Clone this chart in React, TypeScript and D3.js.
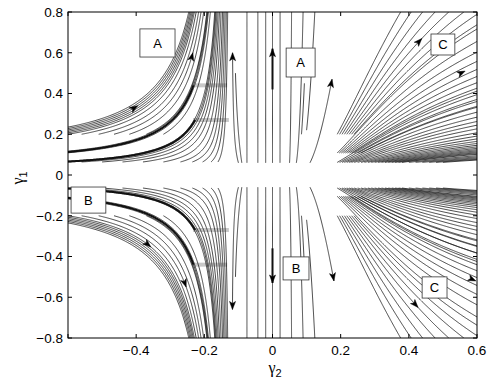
import React from "react";
import * as d3 from "d3";

const width = 491;
const height = 382;
const margin = { left: 68, right: 14, top: 12, bottom: 44 };

const xTicks = [-0.6, -0.4, -0.2, 0, 0.2, 0.4, 0.6];
const xTickLabels = ["", "\u22120.4", "\u22120.2", "0", "0.2", "0.4", "0.6"];
const yTicks = [-0.8, -0.6, -0.4, -0.2, 0, 0.2, 0.4, 0.6, 0.8];
const yTickLabels = ["\u22120.8", "\u22120.6", "\u22120.4", "\u22120.2", "0", "0.2", "0.4", "0.6", "0.8"];

// upper left (region A): γ1 where lines enter at γ2 = -0.6
const upperLeftEdge = [0.064, 0.068, 0.109, 0.113, 0.117, 0.2, 0.207, 0.214, 0.221, 0.228, 0.235];
// γ2 where lines start on the row γ1 = 0.2 and on the row γ1 = 0.064
const upperLeftRowHigh = [-0.56, -0.51, -0.465, -0.42, -0.37, -0.32];
const upperLeftRowLow = [-0.56, -0.5, -0.44, -0.38, -0.32, -0.27, -0.235, -0.205, -0.18, -0.16];
// lower left (region B)
const lowerLeftEdge = [-0.064, -0.068, -0.109, -0.113, -0.117, -0.2, -0.207, -0.214, -0.221, -0.228, -0.235];
const lowerLeftRowHigh = [-0.56, -0.51, -0.465, -0.42, -0.37, -0.32];
const lowerLeftRowLow = [-0.56, -0.5, -0.44, -0.38, -0.32, -0.27, -0.235, -0.205, -0.18, -0.16];

// middle band: [γ2 start, γ1 start, γ1 end]
const upperMiddle = [
  [-0.1, 0.06, 0.6], [-0.09, 0.06, 0.5], [-0.075, 0.06, 0.8], [-0.043, 0.06, 0.8], [-0.02, 0.06, 0.8],
  [0, 0.06, 0.8], [0.022, 0.06, 0.8], [0.05, 0.06, 0.8], [0.07, 0.06, 0.8],
  [0.11, 0.06, 0.47], [0.085, 0.2, 0.45], [0.1, 0.22, 0.8],
];
const lowerMiddle = [
  [-0.1, -0.06, -0.66], [-0.09, -0.06, -0.5], [-0.075, -0.06, -0.8], [-0.043, -0.06, -0.8], [-0.02, -0.06, -0.8],
  [0, -0.06, -0.8], [0.022, -0.06, -0.8], [0.05, -0.06, -0.8], [0.07, -0.06, -0.8],
  [0.11, -0.06, -0.52], [0.085, -0.2, -0.45], [0.1, -0.22, -0.8],
];

// right side (region C): γ2 where lines start on each γ1 row
const upperRightRow20 = [0.19, 0.197, 0.204, 0.211, 0.218, 0.225, 0.232, 0.239];
const upperRightRow11 = [0.19, 0.196, 0.202, 0.208, 0.214, 0.22, 0.226, 0.232, 0.24, 0.25, 0.26];
const upperRightRow06 = [0.19, 0.197, 0.204, 0.211, 0.218, 0.225, 0.232, 0.24, 0.25, 0.26, 0.27, 0.28, 0.29, 0.3, 0.31, 0.32, 0.33, 0.34, 0.35, 0.36, 0.37, 0.38, 0.4, 0.42, 0.44, 0.46, 0.48, 0.5];
const lowerRightRow20 = [0.19, 0.197, 0.204, 0.211, 0.218, 0.225, 0.232, 0.239];
const lowerRightRow10 = [0.19, 0.196, 0.202, 0.208, 0.214, 0.22, 0.226, 0.232, 0.24, 0.25, 0.26];
const lowerRightRow06 = [0.19, 0.197, 0.204, 0.211, 0.218, 0.225, 0.232, 0.24, 0.25, 0.26, 0.27, 0.28, 0.29, 0.3, 0.31, 0.32, 0.33, 0.34, 0.35, 0.36, 0.37, 0.38, 0.4, 0.42, 0.44, 0.46, 0.48, 0.5];

// heavy streamlines: [γ2 start, γ1 start, γ1 end]
const heavyLines = [
  [-0.6, 0.066, 0.27], [-0.6, 0.113, 0.44],
  [-0.6, -0.066, -0.27], [-0.6, -0.113, -0.44],
  [0, 0.42, 0.62], [0, -0.36, -0.53],
];

// arrows: [γ2 start, γ1 start, γ1 at arrow tip]
const arrows = [
  [-0.6, 0.221, 0.34], [-0.465, 0.2, 0.6], [-0.1, 0.06, 0.6], [0, 0.06, 0.62],
  [0.11, 0.06, 0.47], [0.218, 0.2, 0.67], [0.211, 0.108, 0.51],
  [-0.6, -0.2, -0.353], [-0.51, -0.2, -0.55], [-0.1, -0.06, -0.66], [0, -0.06, -0.53],
  [0.11, -0.06, -0.52], [0.218, -0.2, -0.65], [0.211, -0.105, -0.52],
];

// grey start bands: [γ1, γ2 from, γ2 to]
const bands = [
  [0.44, -0.233, -0.133], [0.27, -0.233, -0.128],
  [-0.27, -0.233, -0.128], [-0.44, -0.233, -0.133],
];

// boxed labels: [text, γ2 left, γ2 right, γ1 top, γ1 bottom]
const labels = [
  ["A", -0.389, -0.286, 0.717, 0.579],
  ["A", 0.04, 0.125, 0.623, 0.481],
  ["C", 0.465, 0.535, 0.692, 0.589],
  ["B", -0.591, -0.489, -0.059, -0.187],
  ["B", 0.031, 0.107, -0.402, -0.515],
  ["C", 0.439, 0.512, -0.5, -0.604],
];

const x = d3.scaleLinear().domain([-0.6, 0.6]).range([margin.left, width - margin.right]);
const y = d3.scaleLinear().domain([-0.8, 0.8]).range([height - margin.bottom, margin.top]);
const sx = Math.abs(x(1) - x(0));
const sy = Math.abs(y(1) - y(0));

// flow field: γ1 grows away from 0, γ2 drifts as below
function vx(g2: number) {
  const u = -g2;
  let m;
  if (g2 >= 0) m = (g2 * g2) / (g2 * g2 + 0.004);
  else if (u >= 0.12) m = Math.tanh((u - 0.12) / 0.08);
  else if (u > 0.08) m = -0.5 * Math.sin((Math.PI * (u - 0.08)) / 0.04);
  else m = 0;
  return 2 * g2 * g2 * m;
}

function trace(g2s: number, g1s: number, g1End = 0.8) {
  const pts: number[][] = [[g2s, g1s]];
  let p = [g2s, g1s];
  const lim = Math.abs(g1End);
  const f = (q: number[]) => [vx(q[0]), q[1]];
  for (let i = 0; i < 5000; i++) {
    const v = f(p);
    const sp = Math.hypot(v[0] * sx, v[1] * sy) || 1;
    const dt = 1 / sp;
    const k1 = f(p);
    const k2 = f([p[0] + (dt / 2) * k1[0], p[1] + (dt / 2) * k1[1]]);
    const k3 = f([p[0] + (dt / 2) * k2[0], p[1] + (dt / 2) * k2[1]]);
    const k4 = f([p[0] + dt * k3[0], p[1] + dt * k3[1]]);
    const n = [
      p[0] + (dt / 6) * (k1[0] + 2 * k2[0] + 2 * k3[0] + k4[0]),
      p[1] + (dt / 6) * (k1[1] + 2 * k2[1] + 2 * k3[1] + k4[1]),
    ];
    if (Math.abs(n[1]) >= lim) {
      const t = (lim - Math.abs(p[1])) / (Math.abs(n[1]) - Math.abs(p[1]));
      pts.push([p[0] + t * (n[0] - p[0]), Math.sign(n[1]) * lim]);
      break;
    }
    pts.push(n);
    if (n[0] > 0.61 || n[0] < -0.61) break;
    p = n;
  }
  return pts;
}

const line = d3
  .line<number[]>()
  .x((d) => x(d[0]))
  .y((d) => y(d[1]));

const seeds: number[][] = [
  ...upperLeftEdge.map((g1) => [-0.6, g1, 0.8]),
  ...upperLeftRowHigh.map((g2) => [g2, 0.2, 0.8]),
  ...upperLeftRowLow.map((g2) => [g2, 0.064, 0.8]),
  ...lowerLeftEdge.map((g1) => [-0.6, g1, -0.8]),
  ...lowerLeftRowHigh.map((g2) => [g2, -0.2, -0.8]),
  ...lowerLeftRowLow.map((g2) => [g2, -0.064, -0.8]),
  ...upperMiddle,
  ...lowerMiddle,
  ...upperRightRow20.map((g2) => [g2, 0.2, 0.8]),
  ...upperRightRow11.map((g2) => [g2, 0.108, 0.8]),
  ...upperRightRow06.map((g2) => [g2, 0.062, 0.8]),
  ...lowerRightRow20.map((g2) => [g2, -0.2, -0.8]),
  ...lowerRightRow10.map((g2) => [g2, -0.105, -0.8]),
  ...lowerRightRow06.map((g2) => [g2, -0.064, -0.8]),
];

function arrowHead(a: number[]) {
  const pts = trace(a[0], a[1], a[2]);
  const tip = pts[pts.length - 1];
  const px = x(tip[0]);
  const py = y(tip[1]);
  let dx = vx(tip[0]) * sx;
  let dy = -tip[1] * sy;
  const L = Math.hypot(dx, dy);
  dx /= L;
  dy /= L;
  const len = 8;
  const hw = 3;
  const bx = px - dx * len;
  const by = py - dy * len;
  const nx = bx + dx * 2;
  const ny = by + dy * 2;
  return `M${px},${py}L${bx - dy * hw},${by + dx * hw}L${nx},${ny}L${bx + dy * hw},${by - dx * hw}Z`;
}

export default function App() {
  const font = "'Liberation Sans', Arial, Helvetica, sans-serif";
  const greek = "'Liberation Serif', serif";
  const x0 = margin.left;
  const x1 = width - margin.right;
  const y0 = margin.top;
  const y1 = height - margin.bottom;
  return (
    <svg
      width={width}
      height={height}
      style={{ position: "absolute", left: 0, top: 0, background: "#fff" }}
      fontFamily={font}
    >
      <defs>
        <clipPath id="plot">
          <rect x={x0} y={y0} width={x1 - x0} height={y1 - y0} />
        </clipPath>
      </defs>
      <rect x={0} y={0} width={width} height={height} fill="#fff" />
      <g clipPath="url(#plot)">
        {bands.map((b, i) => (
          <rect
            key={"b" + i}
            x={x(b[1])}
            y={y(b[0]) - 2}
            width={x(b[2]) - x(b[1])}
            height={4}
            fill="#9a9a9a"
            opacity={0.55}
          />
        ))}
        {seeds.map((s, i) => (
          <path key={"s" + i} d={line(trace(s[0], s[1], s[2])) || ""} fill="none" stroke="#1a1a1a" strokeWidth={0.8} />
        ))}
        {heavyLines.map((s, i) => (
          <path key={"h" + i} d={line(trace(s[0], s[1], s[2])) || ""} fill="none" stroke="#111" strokeWidth={2} />
        ))}
        {arrows.map((a, i) => (
          <path key={"a" + i} d={arrowHead(a)} fill="#000" stroke="#000" strokeWidth={0.5} />
        ))}
        {labels.map((l, i) => (
          <g key={"l" + i}>
            <rect
              x={x(l[1] as number)}
              y={y(l[3] as number)}
              width={x(l[2] as number) - x(l[1] as number)}
              height={y(l[4] as number) - y(l[3] as number)}
              fill="#fff"
              stroke="#333"
              strokeWidth={0.8}
            />
            <text
              x={(x(l[1] as number) + x(l[2] as number)) / 2}
              y={(y(l[3] as number) + y(l[4] as number)) / 2 + 4.7}
              textAnchor="middle"
              fontSize={13}
              fill="#000"
            >
              {l[0]}
            </text>
          </g>
        ))}
      </g>
      <rect x={x0} y={y0} width={x1 - x0} height={y1 - y0} fill="none" stroke="#000" strokeWidth={1} />
      {xTicks.map((t) => (
        <g key={"xt" + t}>
          <line x1={x(t)} x2={x(t)} y1={y1} y2={y1 - 4} stroke="#000" />
          <line x1={x(t)} x2={x(t)} y1={y0} y2={y0 + 4} stroke="#000" />
        </g>
      ))}
      {yTicks.map((t) => (
        <g key={"yt" + t}>
          <line x1={x0} x2={x0 + 4} y1={y(t)} y2={y(t)} stroke="#000" />
          <line x1={x1} x2={x1 - 4} y1={y(t)} y2={y(t)} stroke="#000" />
        </g>
      ))}
      {xTicks.map((t, i) => (
        <text key={"xl" + t} x={x(t)} y={y1 + 17} textAnchor="middle" fontSize={13.5}>
          {xTickLabels[i]}
        </text>
      ))}
      {yTicks.map((t, i) => (
        <text key={"yl" + t} x={x0 - 5} y={y(t) + 4.8} textAnchor="end" fontSize={13.5}>
          {yTickLabels[i]}
        </text>
      ))}
      <text x={275} y={373} textAnchor="middle" fontSize={16} fontFamily={greek}>
        γ<tspan fontSize={11} fontFamily={font} dy={4}>2</tspan>
      </text>
      <text
        transform={`translate(23,${(y0 + y1) / 2 + 3}) rotate(-90)`}
        textAnchor="middle"
        fontSize={16}
        fontFamily={greek}
      >
        γ<tspan fontSize={11} fontFamily={font} dy={4}>1</tspan>
      </text>
    </svg>
  );
}
